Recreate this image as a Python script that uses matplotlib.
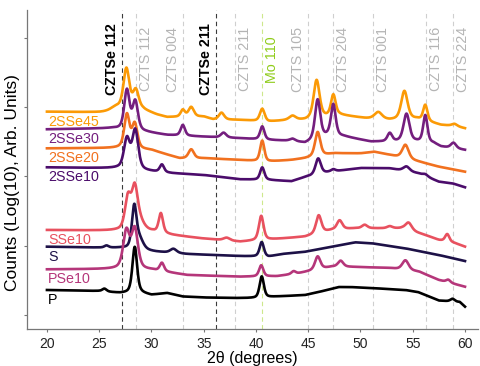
import numpy as np
import matplotlib
matplotlib.use("Agg")
import matplotlib.pyplot as plt

plt.rcParams["font.family"] = ["Liberation Sans", "DejaVu Sans"]

# ---- sample names and colours (top of stack first) ----
names = ["2SSe45", "2SSe30", "2SSe20", "2SSe10", "SSe10", "S", "PSe10", "P"]
colors = ["#fb9a06", "#741e7e", "#f1711f", "#4b0c6b", "#e8515f", "#1d1147", "#b5367a", "#000000"]

# ---- background of each pattern: (2theta, log counts, offset) ----
bg_2SSe45 = ([20, 25, 26.0, 29.2, 30.5, 31.5, 35, 35.9, 38.5, 41.2, 43, 44.7, 48, 50.5, 52.8, 55.4, 57.7, 59, 60],
             [2.934, 2.925, 2.93, 2.958, 2.89, 2.853, 2.861, 2.82, 2.814, 2.789, 2.81, 2.814, 2.886, 2.838, 2.814, 2.828, 2.742, 2.727, 2.694])
bg_2SSe30 = ([20, 26.2, 29.5, 31.5, 35, 38.5, 41.2, 43.5, 44.7, 47, 48.5, 51, 55.3, 57, 57.7, 60],
             [2.680, 2.694, 2.64, 2.597, 2.573, 2.550, 2.525, 2.51, 2.478, 2.59, 2.573, 2.501, 2.501, 2.478, 2.429, 2.381])
bg_2SSe20 = ([20, 27, 30, 32.7, 35.3, 38.5, 41, 43.4, 44.7, 47.5, 50, 51.3, 52.8, 55.6, 57.5, 60],
             [2.405, 2.41, 2.38, 2.261, 2.261, 2.237, 2.212, 2.237, 2.261, 2.333, 2.333, 2.356, 2.309, 2.212, 2.140, 2.068])
bg_2SSe10 = ([20, 26.7, 30.2, 32, 35, 38.5, 41.2, 43.4, 44.7, 47, 50, 52.8, 55.5, 57.5, 58.8, 60],
             [2.131, 2.117, 2.068, 2.045, 2.020, 1.958, 1.948, 1.930, 1.990, 2.063, 2.121, 2.117, 2.045, 1.924, 1.900, 1.843])
bg_SSe10 = ([20, 26.6, 30.1, 32, 34.7, 38.5, 41.6, 44.7, 47.3, 49.5, 51.5, 54, 56.2, 57.5, 59, 60],
            [1.227, 1.217, 1.202, 1.154, 1.107, 1.058, 1.093, 1.130, 1.227, 1.251, 1.251, 1.25, 1.154, 1.082, 1.038, 0.986])
bg_S = ([20, 27, 30.4, 33.4, 38.5, 41.2, 42.5, 44.7, 47.3, 49.5, 51.1, 54.3, 57.5, 60],
        [0.986, 0.967, 0.913, 0.880, 0.851, 0.841, 0.880, 0.913, 0.986, 1.049, 1.035, 0.962, 0.866, 0.779])
bg_PSe10 = ([20, 27, 30, 33.4, 38.5, 42, 44, 47.3, 49.5, 52.8, 55.6, 57.5, 60],
            [0.659, 0.664, 0.649, 0.577, 0.553, 0.56, 0.60, 0.697, 0.693, 0.678, 0.625, 0.505, 0.408])
bg_P = ([20, 25, 27, 29, 30, 31.5, 33, 35, 38, 40, 42, 44.7, 46, 47.9, 49, 51, 54.3, 55.5, 56.2, 57.5, 59.5, 60],
        [0.361, 0.346, 0.317, 0.317, 0.289, 0.317, 0.267, 0.253, 0.245, 0.245, 0.267, 0.289, 0.332, 0.404, 0.404, 0.390, 0.361, 0.332, 0.289, 0.209, 0.188, 0.120])

# ---- reflections of each pattern: (position, height, half width) ----
pk_2SSe45 = ([26.6, 27.6, 28.5, 33.0, 33.8, 36.7, 40.6, 43.5, 45.8, 47.4, 51.7, 54.2, 56.2, 59.0],
             [0.06, 0.596, 0.28, 0.10, 0.14, 0.10, 0.18, 0.06, 0.55, 0.30, 0.10, 0.41, 0.23, 0.03],
             [0.5, 0.28, 0.28, 0.2, 0.25, 0.25, 0.22, 0.3, 0.28, 0.22, 0.35, 0.3, 0.2, 0.25])
pk_2SSe30 = ([27.65, 28.45, 33.0, 36.9, 40.6, 43.5, 45.9, 47.4, 52.8, 54.4, 56.2, 58.9],
             [0.569, 0.416, 0.155, 0.07, 0.19, 0.03, 0.57, 0.45, 0.12, 0.40, 0.39, 0.08],
             [0.25, 0.25, 0.2, 0.25, 0.2, 0.25, 0.25, 0.22, 0.22, 0.28, 0.2, 0.25])
pk_2SSe20 = ([27.65, 28.4, 33.8, 40.6, 45.9, 54.3],
             [0.483, 0.355, 0.13, 0.30, 0.35, 0.20],
             [0.25, 0.25, 0.25, 0.2, 0.25, 0.3])
pk_2SSe10 = ([27.65, 28.45, 31.0, 40.6, 45.95, 47.4, 54.4, 56.2],
             [0.43, 0.563, 0.11, 0.18, 0.23, 0.03, 0.07, 0.03],
             [0.28, 0.28, 0.2, 0.2, 0.25, 0.2, 0.3, 0.25])
pk_SSe10 = ([27.75, 28.4, 28.9, 30.9, 37.2, 40.5, 46.0, 48.0, 50.4, 52.8, 54.6, 58.3],
            [0.465, 0.577, 0.12, 0.28, 0.04, 0.35, 0.26, 0.13, 0.05, 0.03, 0.11, 0.11],
            [0.28, 0.28, 0.4, 0.2, 0.3, 0.22, 0.25, 0.25, 0.25, 0.25, 0.3, 0.2])
pk_S = ([25.7, 28.35, 28.85, 32.1, 40.55],
        [0.03, 0.60, 0.15, 0.06, 0.21],
        [0.2, 0.22, 0.35, 0.3, 0.2])
pk_PSe10 = ([27.6, 28.4, 31.0, 40.5, 43.6, 45.9, 48.1, 54.3, 58.4],
            [0.54, 0.57, 0.12, 0.16, 0.04, 0.19, 0.087, 0.14, 0.04],
            [0.3, 0.3, 0.2, 0.2, 0.2, 0.25, 0.25, 0.3, 0.2])
pk_P = ([25.5, 28.4, 40.55, 58.8],
        [0.04, 0.668, 0.307, 0.04],
        [0.2, 0.22, 0.2, 0.2])

backgrounds = [bg_2SSe45, bg_2SSe30, bg_2SSe20, bg_2SSe10, bg_SSe10, bg_S, bg_PSe10, bg_P]
reflections = [pk_2SSe45, pk_2SSe30, pk_2SSe20, pk_2SSe10, pk_SSe10, pk_S, pk_PSe10, pk_P]

# ---- reference reflections ----
ref_labels = ["CZTSe 112", "CZTS 112", "CZTS 004", "CZTSe 211", "CZTS 211", "Mo 110",
              "CZTS 105", "CZTS 204", "CZTS 001", "CZTS 116", "CZTS 224"]
ref_pos = [27.2, 28.5, 33.04, 36.2, 38.0, 40.6, 45.0, 47.4, 51.17, 56.24, 58.88]
ref_kind = ["czts_se", "czts", "czts", "czts_se", "czts", "mo", "czts", "czts", "czts", "czts", "czts"]
ref_side = [-1, 1, -1, -1, 1, 1, -1, 1, 1, 1, 1]

two_theta = np.linspace(20, 60, 2001)
ETA = 0.5  # Lorentzian fraction of the pseudo-Voigt profile


def pattern(bg, pk):
    y = np.interp(two_theta, bg[0], bg[1])
    for c, h, w in zip(*pk):
        w = w * 1.2
        d = (two_theta - c) / w
        lor = 1.0 / (1.0 + d ** 2)
        gau = np.exp(-np.log(2) * d ** 2)
        y = y + h * (ETA * lor + (1 - ETA) * gau)
    return y


fig = plt.figure(figsize=(4.81, 3.66), dpi=100)
ax = fig.add_axes([0.0561, 0.101, 0.9376, 0.8716])

line_style = {
    "czts_se": dict(color="#3a3a3a", lw=0.8, ls=(0, (4, 3))),
    "czts": dict(color="#cfcfcf", lw=0.8, ls=(0, (4, 3))),
    "mo": dict(color="#cde88c", lw=0.8, ls=(0, (4, 3))),
}
text_style = {
    "czts_se": dict(color="black", fontweight="bold"),
    "czts": dict(color="#b4b4b4"),
    "mo": dict(color="#8fcc1a"),
}
for lab, pos, kind, side in zip(ref_labels, ref_pos, ref_kind, ref_side):
    ax.axvline(pos, zorder=1, **line_style[kind])
    ax.text(pos + side * 0.95, 3.69, lab, rotation=90, ha="center", va="center",
            fontsize=10.3, zorder=3, **text_style[kind])

for name, col, bg, pk in zip(names, colors, backgrounds, reflections):
    y = pattern(bg, pk)
    ax.plot(two_theta, y, color=col, lw=1.9, zorder=2, solid_joinstyle="round")
    ax.text(20.1, y[0] - 0.145, name, color=col, fontsize=10.3, ha="left", va="center", zorder=3)

ax.set_xlim(18.09, 61.24)
ax.set_ylim(-0.202, 4.401)
ax.set_xticks([20, 25, 30, 35, 40, 45, 50, 55, 60])
ax.set_yticks([0, 1, 2, 3, 4])
ax.set_yticklabels([])
ax.tick_params(axis="both", length=2.5, width=0.8, color="#777777", labelsize=10, pad=3)
ax.tick_params(axis="x", labelcolor="#222222")
for s in ("top", "right"):
    ax.spines[s].set_visible(False)
for s in ("left", "bottom"):
    ax.spines[s].set_color("#777777")
    ax.spines[s].set_linewidth(0.9)

ax.set_xlabel("2θ (degrees)", fontsize=11.5, labelpad=0)
ax.set_ylabel("Counts (Log(10), Arb. Units)", fontsize=12.5)
ax.yaxis.set_label_coords(-0.016, 0.458)

fig.savefig("out.png", dpi=100)
